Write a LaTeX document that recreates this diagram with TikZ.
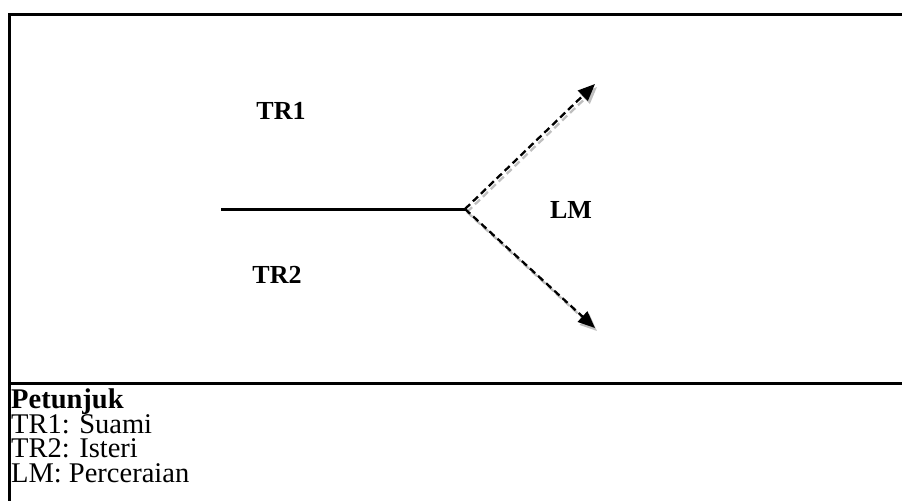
\documentclass[tikz,border=0pt]{standalone}
\usepackage{fontspec}
\setmainfont{Liberation Serif}
\usetikzlibrary{arrows.meta}
\tikzset{
  frameline/.style={line width=3pt, black},
  mainline/.style={line width=3pt, black},
  dasharrow/.style={line width=2.3pt, black, dash pattern=on 7pt off 4pt, -{Triangle[length=17pt,width=14pt]}},
  shadowarrow/.style={line width=2.3pt, black!25, dash pattern=on 7pt off 4pt, -{Triangle[length=17pt,width=14pt]}},
  labeltext/.style={font=\fontsize{26}{26}\selectfont\bfseries, inner sep=0pt, anchor=base},
  legendtext/.style={font=\fontsize{28.5}{28.5}\selectfont, inner sep=0pt, anchor=base west},
}
\begin{document}
\begin{tikzpicture}[x=1pt,y=-1pt]
\useasboundingbox (0,0) rectangle (902,501);
% frame
\coordinate (tl) at (9,14);
\coordinate (tr) at (902,14);
\coordinate (bl) at (9,501);
\coordinate (dl) at (9,383);
\coordinate (dr) at (902,383);
\draw[frameline] (tr) -- (tl) -- (bl);
\draw[frameline] (dl) -- (dr);
% diagram
\coordinate (start) at (221,209);
\coordinate (junc) at (465,209);
\coordinate (up) at (595,84);
\coordinate (down) at (595,328);
\coordinate (juncS) at (467,212);
\coordinate (upS) at (597,87);
\coordinate (downS) at (597,331);
\draw[shadowarrow] (juncS) -- (upS);
\draw[shadowarrow] (juncS) -- (downS);
\draw[mainline] (start) -- (junc);
\draw[dasharrow] (junc) -- (up);
\draw[dasharrow] (junc) -- (down);
\node[labeltext] (tr1) at (281,119) {TR1};
\node[labeltext] (tr2) at (277,283) {TR2};
\node[labeltext] (lm) at (571,218) {LM};
% legend
\node[legendtext] (pet) at (11,408) {\bfseries Petunjuk};
\node[legendtext] (l1) at (11,433) {TR1: Suami};
\node[legendtext] (l2) at (11,457) {TR2: Isteri};
\node[legendtext] (l3) at (11,482) {LM: Perceraian};
\end{tikzpicture}
\end{document}
